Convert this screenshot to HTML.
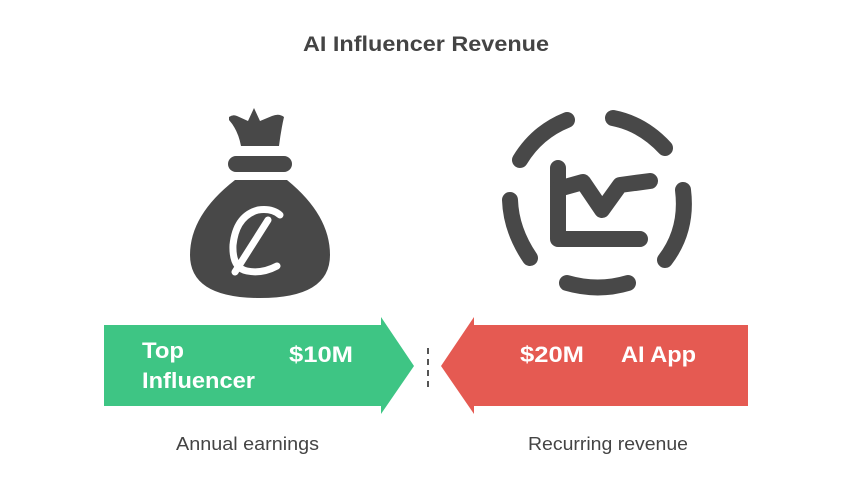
<!DOCTYPE html>
<html><head><meta charset="utf-8"><style>
body{margin:0;width:854px;height:480px;background:#fff;overflow:hidden;font-family:"Liberation Sans",sans-serif}
</style></head><body>
<svg width="854" height="480" viewBox="0 0 854 480" xmlns="http://www.w3.org/2000/svg">
<text x="303" y="51" textLength="246" lengthAdjust="spacingAndGlyphs" font-family="Liberation Sans" font-weight="bold" font-size="21" fill="#444">AI Influencer Revenue</text>
<!-- money bag -->
<g fill="#484848">
<path d="M229,117 Q233,114 237,116 L248,121 L254,108 L260,121 L272,116 Q279,113 284,117 Q281,130 279,146 L241,146 Q238,130 229,120 Z"/>
<rect x="228" y="156" width="64" height="16" rx="8"/>
<path d="M235,180 L287,180 Q330,215 330,255 Q330,298 260,298 Q190,298 190,255 Q190,215 235,180 Z"/>
</g>
<g fill="none" stroke="#fff" stroke-width="7" stroke-linecap="round">
<path d="M280,215 Q272,208 258,210 Q236,216 233,245 Q232,268 247,271 Q262,274 277,266"/>
<path d="M268,220 L235,272"/>
</g>
<!-- chart icon -->
<g fill="none" stroke="#484848" stroke-width="16" stroke-linecap="round" stroke-linejoin="round">
<path d="M567,120 Q537,132 520,160"/>
<path d="M613,118 Q643,124 665,148"/>
<path d="M683,190 Q688,230 665,260"/>
<path d="M628,283 Q598,292 567,283"/>
<path d="M530,258 Q511,230 510,200"/>
<polyline points="558,168 558,239 640,239"/>
<polyline points="558,189 583,182 602,210 620,185 650,181"/>
</g>
<!-- arrows -->
<path d="M104,325 L381,325 L381,317 L414,366 L381,414 L381,406 L104,406 Z" fill="#3EC584"/>
<path d="M748,325 L474,325 L474,317 L441,366 L474,414 L474,406 L748,406 Z" fill="#E55A52"/>
<line x1="428" y1="348" x2="428" y2="392" stroke="#555" stroke-width="2" stroke-dasharray="6,5"/>
<g font-family="Liberation Sans" font-weight="bold" font-size="22" fill="#fff" lengthAdjust="spacingAndGlyphs">
<text x="142" y="358" textLength="42" lengthAdjust="spacingAndGlyphs">Top</text>
<text x="142" y="388" textLength="113" lengthAdjust="spacingAndGlyphs">Influencer</text>
<text x="289" y="362" textLength="64" lengthAdjust="spacingAndGlyphs">$10M</text>
<text x="520" y="362" textLength="64" lengthAdjust="spacingAndGlyphs">$20M</text>
<text x="621" y="362" textLength="75" lengthAdjust="spacingAndGlyphs">AI App</text>
</g>
<g font-family="Liberation Sans" font-size="18" fill="#444">
<text x="176" y="450" textLength="143" lengthAdjust="spacingAndGlyphs">Annual earnings</text>
<text x="528" y="450" textLength="160" lengthAdjust="spacingAndGlyphs">Recurring revenue</text>
</g>
</svg>
</body></html>
